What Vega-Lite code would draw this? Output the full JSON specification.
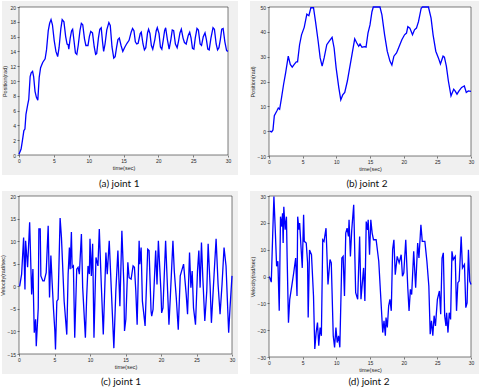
{
  "$schema": "https://vega.github.io/schema/vega-lite/v6.json",
  "padding": 0,
  "background": "white",
  "bounds": "flush",
  "columns": 2,
  "spacing": {"row": 40, "column": 37},
  "config": {
    "view": {"stroke": null},
    "axis": {
      "grid": false, "domain": false, "ticks": true, "tickSize": 2, "tickColor": "#262626", "tickWidth": 0.6,
      "labelFont": "Liberation Sans", "labelFontSize": 5, "labelColor": "#262626", "labelPadding": 1.5, "labelOverlap": false, "labelBound": false, "labelFlush": false,
      "titleFont": "Liberation Sans", "titleFontSize": 5.5, "titleFontWeight": "normal", "titleColor": "#262626", "titlePadding": 2
    }
  },
  "datasets": {
    "a": [
      {"t":0.0,"v":0.1},{"t":0.3,"v":0.8},{"t":0.5,"v":2.0},{"t":0.7,"v":3.3},{"t":0.85,"v":3.5},{"t":1.0,"v":5.5},{"t":1.25,"v":6.8},{"t":1.4,"v":7.5},{"t":1.6,"v":10.6},{"t":1.75,"v":11.1},{"t":1.95,"v":11.3},{"t":2.1,"v":10.6},{"t":2.3,"v":8.6},{"t":2.5,"v":7.8},{"t":2.7,"v":7.4},{"t":2.9,"v":10.5},{"t":3.1,"v":11.8},{"t":3.4,"v":12.5},{"t":3.75,"v":13.0},{"t":3.95,"v":14.2},{"t":4.2,"v":16.8},{"t":4.4,"v":17.8},{"t":4.6,"v":18.3},{"t":4.8,"v":17.6},{"t":5.05,"v":15.5},{"t":5.3,"v":14.0},{"t":5.55,"v":13.3},{"t":5.75,"v":14.5},{"t":6.0,"v":17.0},{"t":6.2,"v":18.3},{"t":6.45,"v":18.0},{"t":6.7,"v":16.0},{"t":6.9,"v":15.0},{"t":7.05,"v":14.9},{"t":7.15,"v":14.3},{"t":7.35,"v":15.8},{"t":7.55,"v":16.8},{"t":7.7,"v":17.0},{"t":7.9,"v":15.4},{"t":8.1,"v":13.8},{"t":8.3,"v":13.6},{"t":8.5,"v":14.8},{"t":8.75,"v":16.8},{"t":8.95,"v":17.8},{"t":9.15,"v":17.6},{"t":9.4,"v":15.7},{"t":9.6,"v":14.8},{"t":9.9,"v":14.8},{"t":10.1,"v":16.0},{"t":10.3,"v":16.7},{"t":10.55,"v":16.5},{"t":10.8,"v":14.6},{"t":11.0,"v":13.6},{"t":11.15,"v":13.7},{"t":11.4,"v":15.8},{"t":11.6,"v":17.0},{"t":11.8,"v":17.2},{"t":12.0,"v":15.2},{"t":12.15,"v":14.0},{"t":12.35,"v":15.0},{"t":12.6,"v":16.9},{"t":12.9,"v":17.9},{"t":13.1,"v":17.5},{"t":13.35,"v":14.6},{"t":13.6,"v":13.1},{"t":13.8,"v":13.3},{"t":14.0,"v":14.5},{"t":14.2,"v":15.6},{"t":14.4,"v":15.8},{"t":14.65,"v":14.8},{"t":14.9,"v":14.0},{"t":15.2,"v":14.6},{"t":15.5,"v":15.1},{"t":15.8,"v":15.5},{"t":16.1,"v":16.6},{"t":16.3,"v":17.1},{"t":16.5,"v":16.8},{"t":16.7,"v":15.3},{"t":16.9,"v":15.0},{"t":17.1,"v":15.1},{"t":17.4,"v":16.4},{"t":17.55,"v":16.6},{"t":17.8,"v":15.0},{"t":18.0,"v":14.2},{"t":18.2,"v":14.5},{"t":18.45,"v":16.5},{"t":18.6,"v":17.0},{"t":18.8,"v":16.4},{"t":19.0,"v":14.8},{"t":19.2,"v":14.3},{"t":19.5,"v":15.6},{"t":19.7,"v":16.8},{"t":19.85,"v":17.2},{"t":20.1,"v":16.4},{"t":20.3,"v":14.6},{"t":20.5,"v":14.3},{"t":20.7,"v":15.5},{"t":20.9,"v":16.8},{"t":21.05,"v":17.2},{"t":21.3,"v":15.6},{"t":21.55,"v":14.3},{"t":21.8,"v":15.6},{"t":22.0,"v":16.9},{"t":22.2,"v":16.8},{"t":22.45,"v":15.0},{"t":22.7,"v":14.5},{"t":22.9,"v":15.4},{"t":23.1,"v":16.5},{"t":23.3,"v":17.0},{"t":23.55,"v":15.8},{"t":23.75,"v":15.2},{"t":24.0,"v":15.0},{"t":24.3,"v":16.2},{"t":24.5,"v":16.6},{"t":24.7,"v":15.8},{"t":24.9,"v":14.4},{"t":25.1,"v":14.3},{"t":25.3,"v":15.8},{"t":25.55,"v":17.1},{"t":25.75,"v":16.9},{"t":26.0,"v":15.0},{"t":26.2,"v":14.8},{"t":26.45,"v":16.0},{"t":26.7,"v":16.5},{"t":26.9,"v":15.6},{"t":27.1,"v":14.3},{"t":27.3,"v":14.2},{"t":27.55,"v":15.8},{"t":27.85,"v":17.2},{"t":28.05,"v":17.0},{"t":28.3,"v":15.0},{"t":28.5,"v":14.2},{"t":28.7,"v":14.5},{"t":28.9,"v":15.6},{"t":29.1,"v":17.0},{"t":29.3,"v":17.1},{"t":29.55,"v":15.3},{"t":29.8,"v":14.1},{"t":30.0,"v":14.0}
    ],
    "b": [
      {"t":0.1,"v":0},{"t":0.39,"v":-0.3},{"t":0.59,"v":0.5},{"t":0.79,"v":6.2},{"t":1.18,"v":8.2},{"t":1.38,"v":9.3},{"t":1.58,"v":8.8},{"t":1.87,"v":13.6},{"t":2.17,"v":18.9},{"t":2.47,"v":23.5},{"t":2.86,"v":30.2},{"t":3.16,"v":26.9},{"t":3.45,"v":25.8},{"t":3.75,"v":26.9},{"t":4.05,"v":27.9},{"t":4.24,"v":27.9},{"t":4.54,"v":34.8},{"t":4.83,"v":38.8},{"t":5.23,"v":41.8},{"t":5.62,"v":47.1},{"t":5.92,"v":46.5},{"t":6.22,"v":49.7},{"t":6.61,"v":49.7},{"t":6.91,"v":44.1},{"t":7.3,"v":36.2},{"t":7.6,"v":29.5},{"t":7.89,"v":26.2},{"t":8.19,"v":29.5},{"t":8.58,"v":34.8},{"t":8.98,"v":36.4},{"t":9.37,"v":37.8},{"t":9.67,"v":33.5},{"t":9.97,"v":25.5},{"t":10.36,"v":17.6},{"t":10.66,"v":12.6},{"t":10.95,"v":14.6},{"t":11.25,"v":15.6},{"t":11.64,"v":20.2},{"t":11.94,"v":24.9},{"t":12.33,"v":30.9},{"t":12.73,"v":37.2},{"t":13.02,"v":35.6},{"t":13.32,"v":34.2},{"t":13.52,"v":35.1},{"t":13.81,"v":33.8},{"t":14.21,"v":34.0},{"t":14.41,"v":33.8},{"t":14.7,"v":39.5},{"t":15.0,"v":42.8},{"t":15.29,"v":48.1},{"t":15.49,"v":50},{"t":16.48,"v":50},{"t":16.77,"v":46.8},{"t":17.17,"v":38.8},{"t":17.56,"v":32.2},{"t":17.96,"v":28.2},{"t":18.25,"v":26.6},{"t":18.55,"v":30.2},{"t":18.94,"v":31.5},{"t":19.24,"v":33.5},{"t":19.73,"v":36.8},{"t":20.13,"v":38.8},{"t":20.42,"v":39.5},{"t":20.62,"v":42.1},{"t":20.92,"v":41.5},{"t":21.31,"v":38.8},{"t":21.61,"v":40.8},{"t":21.9,"v":41.5},{"t":22.2,"v":44.1},{"t":22.6,"v":49.5},{"t":22.79,"v":50},{"t":23.68,"v":50},{"t":24.07,"v":45.5},{"t":24.37,"v":38.8},{"t":24.77,"v":32.2},{"t":25.16,"v":29.5},{"t":25.46,"v":27.1},{"t":25.85,"v":30.2},{"t":26.05,"v":29.8},{"t":26.34,"v":26.2},{"t":26.64,"v":20.2},{"t":27.03,"v":14.2},{"t":27.43,"v":16.9},{"t":27.63,"v":16.2},{"t":27.92,"v":14.9},{"t":28.22,"v":16.2},{"t":28.61,"v":17.6},{"t":29.01,"v":18.2},{"t":29.3,"v":15.6},{"t":29.6,"v":16.2},{"t":30.0,"v":16.0}
    ],
    "c": [
      {"t":0.09,"v":0},{"t":0.37,"v":2.7},{"t":0.65,"v":10.8},{"t":0.84,"v":-0.7},{"t":0.93,"v":10.1},{"t":1.21,"v":4.2},{"t":1.5,"v":14.2},{"t":1.78,"v":-1.8},{"t":1.96,"v":3.8},{"t":2.15,"v":-10.3},{"t":2.34,"v":-7.3},{"t":2.43,"v":-13.3},{"t":2.71,"v":-4.8},{"t":2.8,"v":12.7},{"t":2.99,"v":12.7},{"t":3.08,"v":2.3},{"t":3.36,"v":1.2},{"t":3.55,"v":1.2},{"t":3.83,"v":3.0},{"t":4.11,"v":13.4},{"t":4.3,"v":-2.5},{"t":4.49,"v":6.8},{"t":4.67,"v":0.8},{"t":4.86,"v":-5.1},{"t":5.05,"v":-9.9},{"t":5.14,"v":-14},{"t":5.33,"v":-3.3},{"t":5.51,"v":-2.9},{"t":5.79,"v":15.1},{"t":5.98,"v":10.8},{"t":6.36,"v":-3.3},{"t":6.73,"v":-10.7},{"t":6.92,"v":2.7},{"t":7.1,"v":8.6},{"t":7.2,"v":3.8},{"t":7.38,"v":12.0},{"t":7.48,"v":4.2},{"t":7.66,"v":4.5},{"t":7.85,"v":-11.4},{"t":8.13,"v":3.8},{"t":8.32,"v":4.2},{"t":8.5,"v":2.7},{"t":8.79,"v":11.6},{"t":8.97,"v":-0.3},{"t":9.35,"v":-11.4},{"t":9.53,"v":-2.5},{"t":9.72,"v":4.5},{"t":9.91,"v":2.7},{"t":10.0,"v":10.5},{"t":10.19,"v":2.3},{"t":10.37,"v":9.4},{"t":10.56,"v":-11.4},{"t":10.84,"v":6.4},{"t":11.12,"v":4.5},{"t":11.31,"v":12.7},{"t":11.59,"v":0.4},{"t":11.87,"v":-10.7},{"t":12.24,"v":7.5},{"t":12.43,"v":2.7},{"t":12.71,"v":10.1},{"t":12.99,"v":-0.3},{"t":13.36,"v":-13.7},{"t":13.64,"v":-1.0},{"t":13.93,"v":7.9},{"t":14.21,"v":-4.4},{"t":14.49,"v":12.3},{"t":14.77,"v":0.4},{"t":14.86,"v":-9.9},{"t":15.05,"v":-7.3},{"t":15.33,"v":5.3},{"t":15.51,"v":1.9},{"t":15.79,"v":1.6},{"t":16.07,"v":4.5},{"t":16.26,"v":4.2},{"t":16.45,"v":-1.0},{"t":16.64,"v":-8.5},{"t":16.92,"v":10.1},{"t":17.01,"v":4.9},{"t":17.2,"v":8.6},{"t":17.38,"v":-3.3},{"t":17.76,"v":-8.8},{"t":18.13,"v":8.2},{"t":18.32,"v":7.9},{"t":18.6,"v":-5.5},{"t":18.69,"v":-6.6},{"t":18.88,"v":-5.1},{"t":19.25,"v":7.9},{"t":19.44,"v":0.4},{"t":19.63,"v":10.1},{"t":20.0,"v":-1.4},{"t":20.09,"v":-5.9},{"t":20.28,"v":-4.8},{"t":20.65,"v":10.1},{"t":21.12,"v":-8.5},{"t":21.31,"v":-2.5},{"t":21.68,"v":10.1},{"t":21.87,"v":3.4},{"t":22.15,"v":-2.5},{"t":22.43,"v":-9.6},{"t":22.71,"v":2.3},{"t":23.18,"v":4.9},{"t":23.55,"v":-1.8},{"t":23.74,"v":-6.2},{"t":24.02,"v":7.5},{"t":24.21,"v":-0.3},{"t":24.39,"v":3.4},{"t":24.58,"v":-4.8},{"t":24.86,"v":-8.5},{"t":25.14,"v":3.4},{"t":25.33,"v":7.9},{"t":25.51,"v":-0.3},{"t":25.7,"v":9.7},{"t":25.89,"v":1.9},{"t":26.17,"v":-7.7},{"t":26.45,"v":-1.0},{"t":26.64,"v":9.4},{"t":26.92,"v":0},{"t":27.1,"v":-8.1},{"t":27.48,"v":2.7},{"t":27.76,"v":10.5},{"t":28.04,"v":0.4},{"t":28.32,"v":-6.2},{"t":28.6,"v":0.5},{"t":28.88,"v":8.6},{"t":29.16,"v":4.5},{"t":29.53,"v":-10.3},{"t":29.72,"v":-4.8},{"t":30.0,"v":2.3}
    ],
    "d": [
      {"t":0.05,"v":0},{"t":0.34,"v":-2.1},{"t":0.54,"v":14.9},{"t":0.73,"v":29.8},{"t":0.93,"v":17.4},{"t":1.13,"v":3.8},{"t":1.32,"v":5.7},{"t":1.52,"v":-12.8},{"t":1.71,"v":22.3},{"t":1.91,"v":18.6},{"t":2.01,"v":23.6},{"t":2.1,"v":12.5},{"t":2.2,"v":26},{"t":2.4,"v":17.4},{"t":2.59,"v":22.3},{"t":2.69,"v":7.5},{"t":2.89,"v":-17.2},{"t":3.08,"v":-8.5},{"t":3.38,"v":-3.6},{"t":3.67,"v":1.4},{"t":3.96,"v":6.9},{"t":4.16,"v":-7.3},{"t":4.26,"v":22.3},{"t":4.45,"v":17.4},{"t":4.55,"v":19.9},{"t":4.75,"v":11.2},{"t":4.94,"v":3.2},{"t":5.14,"v":23},{"t":5.24,"v":13.1},{"t":5.53,"v":12.5},{"t":5.73,"v":5.1},{"t":5.82,"v":-15.3},{"t":6.02,"v":9.9},{"t":6.31,"v":8.1},{"t":6.61,"v":-7.3},{"t":6.8,"v":-27},{"t":7.0,"v":-20.9},{"t":7.2,"v":-17.2},{"t":7.39,"v":-25.8},{"t":7.59,"v":-19},{"t":7.78,"v":-22.1},{"t":7.98,"v":13.7},{"t":8.17,"v":13.1},{"t":8.47,"v":18},{"t":8.76,"v":-3},{"t":9.06,"v":6.3},{"t":9.25,"v":5.1},{"t":9.54,"v":-22.1},{"t":9.74,"v":-26.4},{"t":9.94,"v":-19},{"t":10.13,"v":-24.6},{"t":10.33,"v":-22.1},{"t":10.52,"v":-26.4},{"t":10.82,"v":6.9},{"t":11.01,"v":7.5},{"t":11.21,"v":-7.3},{"t":11.4,"v":16.2},{"t":11.6,"v":18},{"t":11.8,"v":14.9},{"t":11.89,"v":21.1},{"t":12.09,"v":7.5},{"t":12.29,"v":17.4},{"t":12.58,"v":26.7},{"t":12.87,"v":-6},{"t":13.17,"v":-8.5},{"t":13.46,"v":14.9},{"t":13.66,"v":-8.5},{"t":14.05,"v":3.2},{"t":14.24,"v":-9.1},{"t":14.44,"v":20.5},{"t":14.64,"v":17.4},{"t":14.73,"v":21.1},{"t":14.93,"v":8.1},{"t":15.12,"v":21.1},{"t":15.32,"v":16.2},{"t":15.52,"v":13.7},{"t":15.91,"v":13.7},{"t":16.3,"v":5.7},{"t":16.89,"v":-20.9},{"t":17.08,"v":-16.5},{"t":17.28,"v":-22.1},{"t":17.38,"v":-15.3},{"t":17.57,"v":-19},{"t":17.77,"v":-11},{"t":17.96,"v":-8.5},{"t":18.16,"v":-12.8},{"t":18.36,"v":10},{"t":18.55,"v":13.7},{"t":18.75,"v":0.7},{"t":19.04,"v":7.5},{"t":19.33,"v":5.1},{"t":19.63,"v":8.1},{"t":19.82,"v":0.1},{"t":20.02,"v":1.4},{"t":20.31,"v":13.7},{"t":20.61,"v":-4.2},{"t":20.8,"v":-12.8},{"t":21.0,"v":-4.8},{"t":21.19,"v":-6.7},{"t":21.49,"v":9.4},{"t":21.78,"v":-4.2},{"t":22.08,"v":12.5},{"t":22.27,"v":6.9},{"t":22.56,"v":19.3},{"t":22.76,"v":13.1},{"t":23.15,"v":13.1},{"t":23.45,"v":5.7},{"t":23.74,"v":-3.6},{"t":23.94,"v":-21.5},{"t":24.13,"v":-16.5},{"t":24.33,"v":-22.1},{"t":24.52,"v":-14.6},{"t":24.72,"v":-18.4},{"t":25.01,"v":-8.5},{"t":25.31,"v":-5.4},{"t":25.5,"v":-14.1},{"t":25.7,"v":6.9},{"t":25.89,"v":8.8},{"t":26.09,"v":-14.6},{"t":26.28,"v":-18.4},{"t":26.38,"v":-13.5},{"t":26.58,"v":-20.9},{"t":26.77,"v":-13.5},{"t":26.97,"v":-16},{"t":27.17,"v":9.4},{"t":27.36,"v":6.3},{"t":27.66,"v":7.5},{"t":27.85,"v":-12.8},{"t":28.05,"v":-2.3},{"t":28.24,"v":-1.7},{"t":28.54,"v":14.9},{"t":28.73,"v":3.2},{"t":29.03,"v":4.5},{"t":29.23,"v":-11.6},{"t":29.42,"v":-9.8},{"t":29.62,"v":10},{"t":29.81,"v":-1.7},{"t":30.0,"v":-3}
    ]
  },
  "concat": [
    {
      "width": 209, "height": 148,
      "resolve": {"axis": {"x": "independent", "y": "independent"}},
      "layer": [
        {"data": {"values": [{}]}, "mark": {"type": "rect", "fill": null, "stroke": "#f0f0f0", "strokeWidth": 40, "strokeJoin": "miter"},
         "encoding": {"x": {"datum": 0.43, "type": "quantitative", "scale": {"domain": [0, 30], "nice": false}, "axis": null}, "x2": {"datum": 28.56},
                      "y": {"datum": 18.11, "type": "quantitative", "scale": {"domain": [0, 20], "nice": false}, "axis": null}, "y2": {"datum": 0}}},
        {"data": {"values": [{}]}, "mark": {"type": "rect", "fill": "white", "stroke": "#262626", "strokeWidth": 0.6},
         "encoding": {"x": {"datum": 0, "type": "quantitative", "scale": {"domain": [0, 30], "nice": false}, "axis": null}, "x2": {"datum": 30},
                      "y": {"datum": 0, "type": "quantitative", "scale": {"domain": [0, 20], "nice": false}, "axis": null}, "y2": {"datum": 20}}},
        {"data": {"name": "a"}, "mark": {"type": "line", "color": "#0000ff", "strokeWidth": 1.3},
         "encoding": {"x": {"field": "t", "type": "quantitative", "scale": {"domain": [0, 30], "nice": false}, "axis": {"title": "time(sec)", "orient": "bottom", "values": [0, 5, 10, 15, 20, 25, 30], "zindex": 1}},
                      "y": {"field": "v", "type": "quantitative", "scale": {"domain": [0, 20], "nice": false}, "axis": {"title": "Position(rad)", "orient": "left", "values": [0, 2, 4, 6, 8, 10, 12, 14, 16, 18, 20], "zindex": 1}}}},
        {"data": {"values": [{}]}, "mark": {"type": "text", "text": "(a) joint 1", "font": "Lato", "fontSize": 10, "color": "#111", "align": "center", "baseline": "middle"},
         "encoding": {"x": {"datum": 14.4, "type": "quantitative", "scale": {"domain": [0, 30], "nice": false}, "axis": null},
                      "y": {"datum": -3.92, "type": "quantitative", "scale": {"domain": [0, 20], "nice": false}, "axis": null}}}
      ]
    },
    {
      "width": 202, "height": 149,
      "resolve": {"axis": {"x": "independent", "y": "independent"}},
      "layer": [
        {"data": {"values": [{}]}, "mark": {"type": "rect", "fill": null, "stroke": "#f0f0f0", "strokeWidth": 40, "strokeJoin": "miter"},
         "encoding": {"x": {"datum": 0.15, "type": "quantitative", "scale": {"domain": [0, 30], "nice": false}, "axis": null}, "x2": {"datum": 28.22},
                      "y": {"datum": 44.36, "type": "quantitative", "scale": {"domain": [-10, 50], "nice": false}, "axis": null}, "y2": {"datum": -9.6}}},
        {"data": {"values": [{}]}, "mark": {"type": "rect", "fill": "white", "stroke": "#262626", "strokeWidth": 0.6},
         "encoding": {"x": {"datum": 0, "type": "quantitative", "scale": {"domain": [0, 30], "nice": false}, "axis": null}, "x2": {"datum": 30},
                      "y": {"datum": -10, "type": "quantitative", "scale": {"domain": [-10, 50], "nice": false}, "axis": null}, "y2": {"datum": 50}}},
        {"data": {"name": "b"}, "mark": {"type": "line", "color": "#0000ff", "strokeWidth": 1.3},
         "encoding": {"x": {"field": "t", "type": "quantitative", "scale": {"domain": [0, 30], "nice": false}, "axis": {"title": "time(sec)", "orient": "bottom", "values": [0, 5, 10, 15, 20, 25, 30], "zindex": 1}},
                      "y": {"field": "v", "type": "quantitative", "scale": {"domain": [-10, 50], "nice": false}, "axis": {"title": "Position(rad)", "orient": "left", "values": [-10, 0, 10, 20, 30, 40, 50], "zindex": 1}}}},
        {"data": {"values": [{}]}, "mark": {"type": "text", "text": "(b) joint 2", "font": "Lato", "fontSize": 10, "color": "#111", "align": "center", "baseline": "middle"},
         "encoding": {"x": {"datum": 14.55, "type": "quantitative", "scale": {"domain": [0, 30], "nice": false}, "axis": null},
                      "y": {"datum": -21.28, "type": "quantitative", "scale": {"domain": [-10, 50], "nice": false}, "axis": null}}}
      ]
    },
    {
      "width": 213, "height": 158,
      "resolve": {"axis": {"x": "independent", "y": "independent"}},
      "layer": [
        {"data": {"values": [{}]}, "mark": {"type": "rect", "fill": null, "stroke": "#f0f0f0", "strokeWidth": 40, "strokeJoin": "miter"},
         "encoding": {"x": {"datum": 0.42, "type": "quantitative", "scale": {"domain": [0, 30], "nice": false}, "axis": null}, "x2": {"datum": 28.03},
                      "y": {"datum": 16.68, "type": "quantitative", "scale": {"domain": [-15, 20], "nice": false}, "axis": null}, "y2": {"datum": -15}}},
        {"data": {"values": [{}]}, "mark": {"type": "rect", "fill": "white", "stroke": "#262626", "strokeWidth": 0.6},
         "encoding": {"x": {"datum": 0, "type": "quantitative", "scale": {"domain": [0, 30], "nice": false}, "axis": null}, "x2": {"datum": 30},
                      "y": {"datum": -15, "type": "quantitative", "scale": {"domain": [-15, 20], "nice": false}, "axis": null}, "y2": {"datum": 20}}},
        {"data": {"name": "c"}, "mark": {"type": "line", "color": "#0000ff", "strokeWidth": 1.3},
         "encoding": {"x": {"field": "t", "type": "quantitative", "scale": {"domain": [0, 30], "nice": false}, "axis": {"title": "time(sec)", "orient": "bottom", "values": [0, 5, 10, 15, 20, 25, 30], "zindex": 1}},
                      "y": {"field": "v", "type": "quantitative", "scale": {"domain": [-15, 20], "nice": false}, "axis": {"title": "Velocity(rad/sec)", "orient": "left", "values": [-15, -10, -5, 0, 5, 10, 15, 20], "zindex": 1}}}},
        {"data": {"values": [{}]}, "mark": {"type": "text", "text": "(c) joint 1", "font": "Lato", "fontSize": 10, "color": "#111", "align": "center", "baseline": "middle"},
         "encoding": {"x": {"datum": 14.37, "type": "quantitative", "scale": {"domain": [0, 30], "nice": false}, "axis": null},
                      "y": {"datum": -21.2, "type": "quantitative", "scale": {"domain": [-15, 20], "nice": false}, "axis": null}}}
      ]
    },
    {
      "width": 202, "height": 161,
      "resolve": {"axis": {"x": "independent", "y": "independent"}},
      "layer": [
        {"data": {"values": [{}]}, "mark": {"type": "rect", "fill": null, "stroke": "#f0f0f0", "strokeWidth": 40, "strokeJoin": "miter"},
         "encoding": {"x": {"datum": 0.15, "type": "quantitative", "scale": {"domain": [0, 30], "nice": false}, "axis": null}, "x2": {"datum": 28.22},
                      "y": {"datum": 24.41, "type": "quantitative", "scale": {"domain": [-30, 30], "nice": false}, "axis": null}, "y2": {"datum": -28.88}}},
        {"data": {"values": [{}]}, "mark": {"type": "rect", "fill": "white", "stroke": "#262626", "strokeWidth": 0.6},
         "encoding": {"x": {"datum": 0, "type": "quantitative", "scale": {"domain": [0, 30], "nice": false}, "axis": null}, "x2": {"datum": 30},
                      "y": {"datum": -30, "type": "quantitative", "scale": {"domain": [-30, 30], "nice": false}, "axis": null}, "y2": {"datum": 30}}},
        {"data": {"name": "d"}, "mark": {"type": "line", "color": "#0000ff", "strokeWidth": 1.3},
         "encoding": {"x": {"field": "t", "type": "quantitative", "scale": {"domain": [0, 30], "nice": false}, "axis": {"title": "time(sec)", "orient": "bottom", "values": [0, 5, 10, 15, 20, 25, 30], "zindex": 1}},
                      "y": {"field": "v", "type": "quantitative", "scale": {"domain": [-30, 30], "nice": false}, "axis": {"title": "Velocity(rad/sec)", "orient": "left", "values": [-30, -20, -10, 0, 10, 20, 30], "zindex": 1}}}},
        {"data": {"values": [{}]}, "mark": {"type": "text", "text": "(d) joint 2", "font": "Lato", "fontSize": 10, "color": "#111", "align": "center", "baseline": "middle"},
         "encoding": {"x": {"datum": 14.85, "type": "quantitative", "scale": {"domain": [0, 30], "nice": false}, "axis": null},
                      "y": {"datum": -39.32, "type": "quantitative", "scale": {"domain": [-30, 30], "nice": false}, "axis": null}}}
      ]
    }
  ]
}
